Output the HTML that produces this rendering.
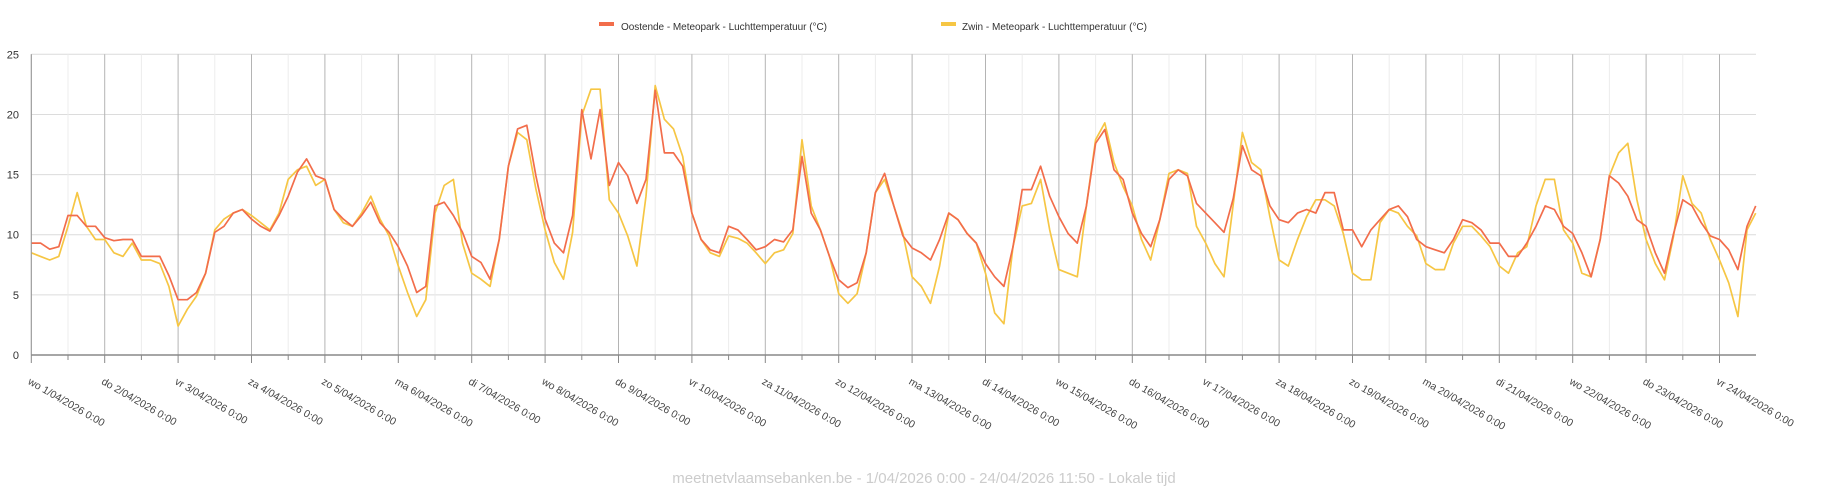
<!DOCTYPE html>
<html><head><meta charset="utf-8"><style>
html,body{margin:0;padding:0;background:#fff;}
svg{display:block;font-family:"Liberation Sans",sans-serif;}
</style></head><body>
<svg id="chart" width="1843" height="500" viewBox="0 0 1843 500">
<g id="grid"></g>
<g id="series"></g>
<g id="axes"></g>
<g>
  <g>
    <rect x="599" y="22" width="15" height="4" fill="#f26d4b"/>
    <text x="621" y="30" font-size="10" fill="#333" textLength="206">Oostende - Meteopark - Luchttemperatuur (°C)</text>
  </g>
  <g>
    <rect x="941" y="22" width="15" height="4" fill="#f6c644"/>
    <text x="962" y="30" font-size="10" fill="#333" textLength="185">Zwin - Meteopark - Luchttemperatuur (°C)</text>
  </g>
</g>
<text x="924" y="483" font-size="15" fill="#cccccc" text-anchor="middle">meetnetvlaamsebanken.be - 1/04/2026 0:00 - 24/04/2026 11:50 - Lokale tijd</text>
</svg>
<script>
const dayLabels = ["wo 1/04/2026 0:00","do 2/04/2026 0:00","vr 3/04/2026 0:00","za 4/04/2026 0:00","zo 5/04/2026 0:00","ma 6/04/2026 0:00","di 7/04/2026 0:00","wo 8/04/2026 0:00","do 9/04/2026 0:00","vr 10/04/2026 0:00","za 11/04/2026 0:00","zo 12/04/2026 0:00","ma 13/04/2026 0:00","di 14/04/2026 0:00","wo 15/04/2026 0:00","do 16/04/2026 0:00","vr 17/04/2026 0:00","za 18/04/2026 0:00","zo 19/04/2026 0:00","ma 20/04/2026 0:00","di 21/04/2026 0:00","wo 22/04/2026 0:00","do 23/04/2026 0:00","vr 24/04/2026 0:00"];
const yTicks = [0,5,10,15,20,25];
const oostende = [
9.3,9.3,8.8,9.0,11.6,11.6,10.7,10.7,
9.75,9.5,9.6,9.6,8.2,8.2,8.2,6.6,
4.6,4.6,5.2,6.8,10.2,10.7,11.8,12.1,
11.3,10.7,10.3,11.6,13.2,15.2,16.3,14.9,
14.6,12.1,11.3,10.7,11.6,12.7,11.0,10.2,
9.0,7.4,5.2,5.7,12.4,12.7,11.6,10.2,
8.2,7.7,6.3,9.6,15.7,18.8,19.1,14.9,
11.3,9.3,8.5,11.6,20.4,16.3,20.4,14.1,
16.0,14.9,12.6,14.6,22.0,16.8,16.8,15.7,
11.8,9.6,8.75,8.5,10.7,10.4,9.6,8.75,
9.0,9.6,9.4,10.4,16.5,11.8,10.4,8.2,
6.25,5.6,6.0,8.5,13.5,15.1,12.4,9.9,
8.9,8.5,7.9,9.6,11.8,11.25,10.1,9.3,
7.6,6.5,5.7,9.0,13.75,13.75,15.7,13.2,
11.5,10.1,9.3,12.4,17.6,18.75,15.4,14.6,
11.8,10.1,9.0,11.25,14.6,15.4,14.9,12.6,
11.8,11.0,10.2,13.0,17.4,15.4,14.9,12.4,
11.25,11.0,11.8,12.1,11.8,13.5,13.5,10.4,
10.4,9.0,10.4,11.25,12.1,12.4,11.5,9.6,
9.0,8.75,8.5,9.6,11.25,11.0,10.4,9.3,
9.3,8.2,8.2,9.3,10.7,12.4,12.1,10.7,
10.1,8.5,6.5,9.6,14.9,14.3,13.2,11.25,
10.7,8.5,6.8,10.1,12.9,12.4,11.0,9.9,
9.6,8.75,7.1,10.7,12.4];
const zwin = [
8.5,8.2,7.9,8.2,10.7,13.5,10.7,9.6,
9.6,8.5,8.2,9.3,7.9,7.9,7.6,5.7,
2.4,3.8,4.9,6.8,10.4,11.3,11.8,12.1,
11.6,11.0,10.4,11.8,14.6,15.4,15.7,14.1,
14.6,12.1,11.0,10.7,11.8,13.2,11.3,9.9,
7.4,5.2,3.2,4.6,11.8,14.1,14.6,9.3,
6.8,6.3,5.7,9.6,15.7,18.5,17.9,13.8,
10.4,7.7,6.3,10.2,19.9,22.1,22.1,12.9,
11.8,9.9,7.4,13.2,22.4,19.6,18.8,16.5,
11.8,9.6,8.5,8.2,9.9,9.7,9.3,8.5,
7.6,8.5,8.75,10.1,17.9,12.4,10.4,8.2,
5.1,4.3,5.1,8.5,13.5,14.6,12.4,10.1,
6.5,5.7,4.3,7.4,11.8,11.25,10.1,9.3,
6.8,3.5,2.6,9.0,12.4,12.6,14.6,10.4,
7.1,6.8,6.5,12.4,17.9,19.3,16.0,14.0,
12.4,9.6,7.9,11.25,15.1,15.4,15.1,10.7,
9.3,7.6,6.5,12.5,18.5,16.0,15.4,11.5,
7.9,7.4,9.6,11.5,12.9,12.9,12.4,10.1,
6.8,6.25,6.25,11.0,12.1,11.8,10.7,9.9,
7.6,7.1,7.1,9.3,10.7,10.7,9.9,9.0,
7.4,6.8,8.5,9.0,12.4,14.6,14.6,10.4,
9.3,6.8,6.5,9.6,14.9,16.8,17.6,12.9,
9.6,7.6,6.25,9.9,14.9,12.6,11.8,9.6,
7.9,6.0,3.2,10.4,11.8];
const sampleStepHours = 3;
const endHour = 23*24 + 11 + 50/60;

const NS = "http://www.w3.org/2000/svg";
const X0 = 31.3, DAYW = 73.4, Y0 = 355, YTOP = 54.3, XEND = 1756;
function xScale(h){ return X0 + h/24*DAYW; }
function yScale(v){ return Y0 - (v/25)*(Y0-YTOP); }
function hourAt(i, n){ return i === n-1 ? endHour : i*sampleStepHours; }
function mk(tag, attrs, parent){
  const e = document.createElementNS(NS, tag);
  for (const k in attrs) e.setAttribute(k, attrs[k]);
  parent.appendChild(e); return e;
}
const grid = document.getElementById('grid');
const axes = document.getElementById('axes');
const series = document.getElementById('series');

// horizontal grid + y labels
yTicks.forEach(v => {
  const y = yScale(v);
  if (v > 0) {
    const l = mk('line', {x1:X0, x2:XEND, y1:y, y2:y, stroke:'#dcdcdc', 'stroke-width':1}, grid);
    
    
  }
  const t = mk('text', {x:19, y:y+4, 'font-size':11, fill:'#333', 'text-anchor':'end'}, axes);
  t.textContent = v;
  
  
});
// vertical grid, ticks, x labels
dayLabels.forEach((lab, d) => {
  const x = xScale(d*24);
  const g = mk('line', {x1:x, x2:x, y1:YTOP, y2:Y0, stroke:'#b4b4b4', 'stroke-width':1}, grid);
  
  
  mk('line', {x1:x, x2:x, y1:Y0, y2:Y0+8, stroke:'#888', 'stroke-width':1}, axes);
  const xm = xScale(d*24+12);
  if (xm < XEND) {
    const m = mk('line', {x1:xm, x2:xm, y1:YTOP, y2:Y0, stroke:'#ececec', 'stroke-width':1}, grid);
    
    
    mk('line', {x1:xm, x2:xm, y1:Y0, y2:Y0+5, stroke:'#888', 'stroke-width':1}, axes);
  }
  const t = mk('text', {x:x-2, y:384, 'font-size':10.5, fill:'#444', transform:`rotate(30 ${x-2} 380)`}, axes);
  t.textContent = lab;
  
  
});
const ya = mk('line', {x1:X0, x2:X0, y1:YTOP, y2:Y0, stroke:'#999', 'stroke-width':1}, axes);


const xa = mk('line', {x1:X0, x2:XEND, y1:Y0, y2:Y0, stroke:'#888', 'stroke-width':1.5}, axes);



function drawSeries(vals, color, name){
  const pts = vals.map((v,i) => xScale(hourAt(i, vals.length)).toFixed(1)+','+yScale(v).toFixed(1)).join(' ');
  const p = mk('polyline', {points:pts, fill:'none', stroke:color, 'stroke-width':1.7, 'stroke-linejoin':'round'}, series);
  
  
}
drawSeries(zwin, '#f6c644', 'zwin-line');
drawSeries(oostende, '#f26d4b', 'oostende-line');
</script>
</body></html>
